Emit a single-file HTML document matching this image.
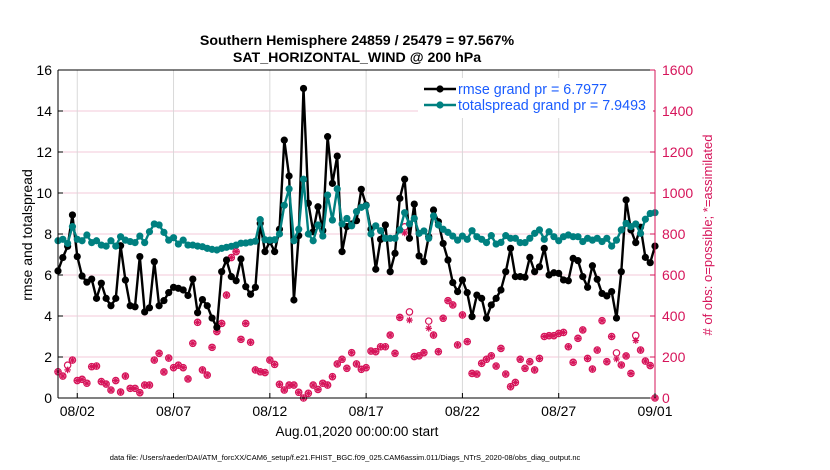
<!DOCTYPE html>
<html><head><meta charset="utf-8">
<style>
body{margin:0;background:#fff;width:830px;height:470px;overflow:hidden;font-family:"Liberation Sans",Arial,sans-serif}
svg{display:block}
</style></head>
<body>
<svg id="chart" width="830" height="470" viewBox="0 0 830 470" xmlns="http://www.w3.org/2000/svg">
<text x="357" y="45" text-anchor="middle" font-size="14.2" font-weight="bold">Southern Hemisphere 24859 / 25479 = 97.567%</text>
<text x="357" y="62" text-anchor="middle" font-size="14.2" font-weight="bold">SAT_HORIZONTAL_WIND @ 200 hPa</text>
<g id="grid"></g>
<g id="series"></g>
<g id="axes"></g>
<text transform="translate(32,235) rotate(-90)" text-anchor="middle" font-size="14">rmse and totalspread</text>
<text transform="translate(712,235) rotate(-90)" text-anchor="middle" font-size="13" fill="#d6145a"># of obs: o=possible; *=assimilated</text>
<text x="357" y="436" text-anchor="middle" font-size="13.5">Aug.01,2020 00:00:00 start</text>
<text x="345" y="460" text-anchor="middle" font-size="7.5">data file: /Users/raeder/DAI/ATM_forcXX/CAM6_setup/f.e21.FHIST_BGC.f09_025.CAM6assim.011/Diags_NTrS_2020-08/obs_diag_output.nc</text>
<g id="legend"></g>
</svg>
<script>
const rmse=[6.2,6.85,7.4,8.93,6.9,5.95,5.65,5.8,4.86,5.6,4.86,4.5,4.86,7.43,5.75,4.5,4.45,6.9,4.2,4.4,6.65,4.5,4.75,5.14,5.4,5.35,5.27,5.0,5.8,4.16,4.8,4.5,3.9,
3.45,6.16,6.73,5.92,5.72,6.78,5.43,5.06,5.4,8.52,7.14,7.63,7.14,8.23,12.58,10.83,4.78,7.92,15.1,9.5,8.11,9.33,8.16,12.75,10.47,11.8,7.14,8.36,8.49,8.65,10.18,
9.41,8.24,6.28,7.74,8.44,6.16,7.06,9.74,10.67,7.79,9.46,6.93,6.65,7.87,9.17,8.6,7.54,6.73,5.63,5.19,5.76,5.14,3.97,5.02,4.86,3.89,4.54,4.86,5.27,6.16,7.3,5.92,
5.92,5.89,6.86,6.16,6.4,7.3,6.0,6.11,6.08,5.76,5.72,6.81,6.7,5.92,5.4,6.45,5.79,5.1,4.98,5.19,3.9,6.16,9.66,8.2,7.58,8.33,6.86,6.6,7.41];
const spread=[7.67,7.74,7.54,8.36,7.74,7.67,7.95,7.58,7.67,7.46,7.41,7.67,7.41,7.87,7.7,7.63,7.58,7.9,7.58,8.11,8.49,8.44,8.08,7.7,7.82,7.51,7.7,7.46,7.46,7.41,7.38,7.3,7.25,
7.22,7.3,7.35,7.4,7.46,7.55,7.56,7.6,7.65,8.7,7.72,7.7,7.72,8.0,9.4,10.2,7.67,8.23,10.67,8.0,7.67,8.44,7.9,9.9,8.68,10.2,8.49,8.76,8.4,9.09,9.3,
9.38,8.0,8.4,8.16,7.79,7.79,7.79,8.2,9.04,8.49,8.76,8.03,8.15,7.79,8.88,8.44,8.23,8.08,7.9,7.7,7.9,7.74,8.16,7.87,7.74,7.58,7.92,7.51,7.59,7.92,7.79,7.79,
7.58,7.58,7.79,8.03,8.2,7.74,8.11,7.87,7.67,7.87,7.95,7.87,7.87,7.63,7.79,7.7,7.79,7.63,7.79,7.41,7.7,8.2,8.52,8.36,8.49,8.03,8.72,9.0,9.04];
const obsUsed=[128,107,137,185,85,91,72,153,156,80,68,39,85,29,107,47,47,26,63,63,185,218,127,195,148,160,148,93,267,369,137,112,247,
324,364,502,685,714,286,364,272,137,128,124,185,164,67,39,63,63,28,0,23,63,42,72,63,104,166,189,145,221,166,140,
148,229,226,250,250,307,218,393,805,380,202,206,221,340,307,226,389,475,454,259,405,275,120,117,169,189,206,156,242,117,55,76,
189,145,177,137,193,300,304,304,315,320,250,174,291,332,193,141,234,377,177,300,190,161,205,120,280,234,180,158,0];
const obsPossible=[128,107,160,185,85,91,72,153,156,80,68,39,85,29,107,47,47,26,63,63,185,218,127,195,148,160,148,93,267,369,137,112,247,
324,364,502,685,714,286,364,272,137,128,124,185,164,67,39,63,63,28,0,23,63,42,72,63,104,166,189,145,221,166,140,
148,229,226,250,250,307,218,393,835,420,202,206,221,375,307,226,389,475,454,259,405,275,120,117,169,189,206,156,242,117,55,76,
189,145,177,137,193,300,304,304,315,320,250,174,291,332,193,141,234,377,177,300,220,161,205,120,305,234,180,158,0];
const xTickLabels=["08/02","08/07","08/12","08/17","08/22","08/27","09/01"];
const xTickDays=[1,6,11,16,21,26,31];
const yLeftTicks=[0,2,4,6,8,10,12,14,16];
const yRightTicks=[0,200,400,600,800,1000,1200,1400,1600];

const X0=58,X1=655,Y0=398,Y1=70;
const xDay=d=>X0+(X1-X0)*d/31;
const xIdx=i=>xDay(i*0.25);
const yL=v=>Y0-(Y0-Y1)*v/16;
const yR=v=>Y0-(Y0-Y1)*v/1600;
const NS="http://www.w3.org/2000/svg";
function mk(tag,attrs,parent){const e=document.createElementNS(NS,tag);for(const k in attrs)e.setAttribute(k,attrs[k]);parent.appendChild(e);return e;}
const grid=document.getElementById('grid'),ser=document.getElementById('series'),ax=document.getElementById('axes'),leg=document.getElementById('legend');
const RED="#d6145a",TEAL="#008080";

yLeftTicks.forEach(v=>{if(v>0&&v<16){const l=mk('line',{x1:X0,x2:X1,y1:yL(v),y2:yL(v),stroke:"#f3c9d8","stroke-width":1},grid);

}});
xTickDays.forEach(d=>{const l=mk('line',{x1:xDay(d),x2:xDay(d),y1:Y1,y2:Y0,stroke:"#d8d8d8","stroke-width":1},grid);

});

function star(cx,cy,g){const r=3.3;for(let a=0;a<4;a++){const t=a*Math.PI/4;mk('line',{x1:cx-r*Math.cos(t),y1:cy-r*Math.sin(t),x2:cx+r*Math.cos(t),y2:cy+r*Math.sin(t),stroke:RED,"stroke-width":1.2},g);}}
obsPossible.forEach((v,i)=>{const c=mk('circle',{cx:xIdx(i),cy:yR(v),r:3.2,fill:"none",stroke:RED,"stroke-width":1.2},ser);

});
obsUsed.forEach((v,i)=>{const g=mk('g',{},ser);


star(xIdx(i),yR(v),g);});

function line(arr,color,name){const p=mk('polyline',{points:arr.map((v,i)=>xIdx(i).toFixed(1)+","+yL(v).toFixed(1)).join(" "),fill:"none",stroke:color,"stroke-width":2.4,"stroke-linejoin":"round"},ser);


arr.forEach((v,i)=>{const c=mk('circle',{cx:xIdx(i),cy:yL(v),r:3.6,fill:color},ser);

});}
line(rmse,"#000","rmse");
line(spread,TEAL,"totalspread");

mk('line',{x1:X0,x2:X1,y1:Y1,y2:Y1,stroke:"#000","stroke-width":1},ax);
mk('line',{x1:X0,x2:X1,y1:Y0,y2:Y0,stroke:"#000","stroke-width":1},ax);
mk('line',{x1:X0,x2:X0,y1:Y1,y2:Y0,stroke:"#000","stroke-width":1},ax);
mk('line',{x1:X1,x2:X1,y1:Y1,y2:Y0,stroke:RED,"stroke-width":1},ax);
yLeftTicks.forEach(v=>{mk('line',{x1:X0,x2:X0+5,y1:yL(v),y2:yL(v),stroke:"#000"},ax);
const t=mk('text',{x:X0-6,y:yL(v)+5,"text-anchor":"end","font-size":14},ax);t.textContent=v;

});
yRightTicks.forEach(v=>{mk('line',{x1:X1-5,x2:X1,y1:yR(v),y2:yR(v),stroke:RED},ax);
const t=mk('text',{x:X1+7,y:yR(v)+5,"text-anchor":"start","font-size":14,fill:RED},ax);t.textContent=v;

});
xTickDays.forEach((d,k)=>{mk('line',{x1:xDay(d),x2:xDay(d),y1:Y0-5,y2:Y0,stroke:"#000"},ax);
const t=mk('text',{x:xDay(d),y:416,"text-anchor":"middle","font-size":14},ax);t.textContent=xTickLabels[k];

});

mk('rect',{x:418,y:78,width:235,height:40,fill:"#fff"},leg);
[["rmse grand pr = 6.7977","#000",89],["totalspread grand pr = 7.9493",TEAL,105]].forEach(([txt,col,y])=>{
mk('line',{x1:424,x2:456,y1:y,y2:y,stroke:col,"stroke-width":2.4},leg);
mk('circle',{cx:440,cy:y,r:3.6,fill:col},leg);
const t=mk('text',{x:458,y:y+5,"font-size":14.3,fill:"#1a5cff"},leg);t.textContent=txt;

});
</script>
</body></html>
